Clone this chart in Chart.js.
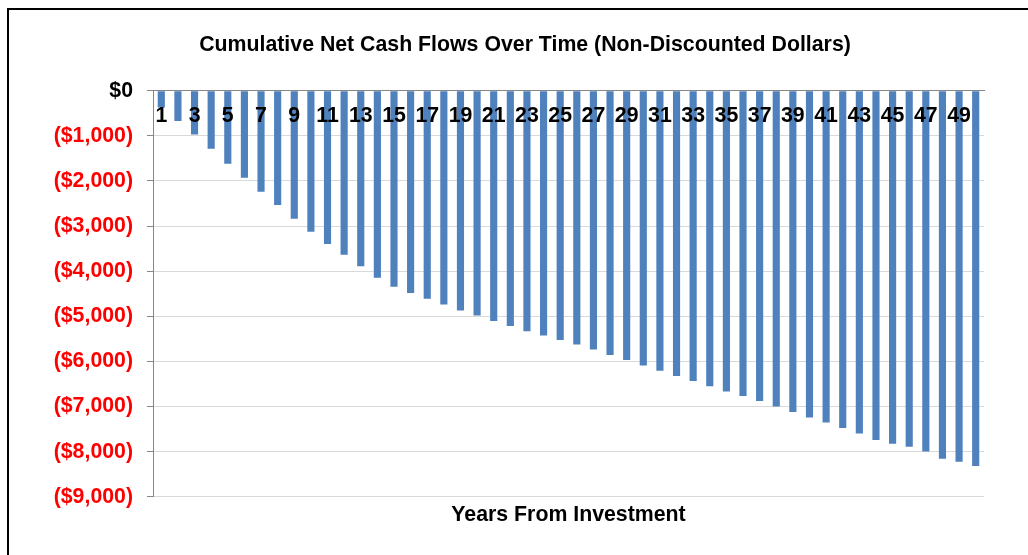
<!DOCTYPE html>
<html><head><meta charset="utf-8">
<script src="https://cdn.jsdelivr.net/npm/chart.js@4.4.1/dist/chart.umd.min.js"></script>
<style>
html,body{margin:0;padding:0;background:#fff;}
#wrap{position:relative;width:1028px;height:555px;overflow:hidden;}
#frame{position:absolute;left:7px;top:8px;width:1100px;height:700px;border-left:2.5px solid #000;border-top:2.5px solid #000;pointer-events:none;}
canvas{position:absolute;left:0;top:0;}
</style></head><body>
<div id="wrap"><canvas id="c" width="1028" height="555"></canvas><div id="frame"></div></div>
<script>
const years = [1,2,3,4,5,6,7,8,9,10,11,12,13,14,15,16,17,18,19,20,21,22,23,24,25,26,27,28,29,30,31,32,33,34,35,36,37,38,39,40,41,42,43,44,45,46,47,48,49,50];
const cumulativeNetCashFlow = [-375,-670,-970,-1285,-1620,-1930,-2240,-2535,-2840,-3125,
  -3400,-3635,-3890,-4145,-4345,-4485,-4610,-4740,-4870,-4985,
  -5105,-5215,-5330,-5425,-5528,-5625,-5735,-5860,-5970,-6090,
  -6205,-6325,-6435,-6550,-6670,-6770,-6880,-7000,-7120,-7245,
  -7355,-7475,-7600,-7740,-7825,-7890,-8000,-8160,-8225,-8320];
const yMin = -9000;
const yMax = 0;
const yStep = 1000;
const chartTitle = 'Cumulative Net Cash Flows Over Time (Non-Discounted Dollars)';
const xAxisTitle = 'Years From Investment';

const FONT = 'Liberation Sans, Arial, sans-serif';
const boldFont = {family: FONT, size: 21.3, weight: 'bold'};

function money(v) {
  if (v === 0) return '$0';
  const s = '$' + Math.abs(v).toLocaleString('en-US');
  return v < 0 ? '(' + s + ')' : s;
}

new Chart(document.getElementById('c'), {
  type: 'bar',
  data: {
    labels: years,
    datasets: [{
      data: cumulativeNetCashFlow,
      backgroundColor: '#4F81BD',
      borderWidth: 0,
      barPercentage: 0.43,
      categoryPercentage: 1.0
    }]
  },
  options: {
    responsive: false,
    animation: false,
    devicePixelRatio: 1,
    layout: {padding: {left: 50, right: 28, top: 0, bottom: 0}},
    plugins: {
      legend: {display: false},
      tooltip: {enabled: false},
      title: {
        display: true, text: chartTitle, color: '#000', font: boldFont,
        padding: {top: 32.5, bottom: 32.6}
      },
      subtitle: {
        display: true, position: 'bottom', fullSize: false, text: xAxisTitle, color: '#000', font: boldFont,
        padding: {top: 5.5, bottom: 27.2}
      }
    },
    scales: {
      x: {
        position: {y: 0},
        grid: {display: true, drawOnChartArea: false, drawTicks: false},
        border: {display: true, color: '#868686', width: 1, z: 1},
        ticks: {
          z: 1, autoSkip: false, maxRotation: 0, minRotation: 0, padding: 13,
          color: '#000', font: boldFont,
          callback: (v, i) => (i % 2 === 0 ? String(years[i]) : '')
        }
      },
      y: {
        min: yMin, max: yMax,
        afterFit: (s) => { s.width = 103; },
        grid: {color: '#D9D9D9', lineWidth: 1, tickColor: '#868686', tickLength: 6, drawTicks: true},
        border: {display: true, color: '#868686', width: 1},
        ticks: {
          stepSize: yStep, padding: 14, font: boldFont,
          color: (c) => (c.tick && c.tick.value < 0 ? '#FF0000' : '#000000'),
          callback: (v) => money(v)
        }
      },
      rightSpace: {
        type: 'linear', position: 'right', display: true,
        grid: {display: false}, border: {display: false}, ticks: {display: false},
        afterFit: (s) => { s.width = 16; }
      }
    }
  }
});
</script>
</body></html>
